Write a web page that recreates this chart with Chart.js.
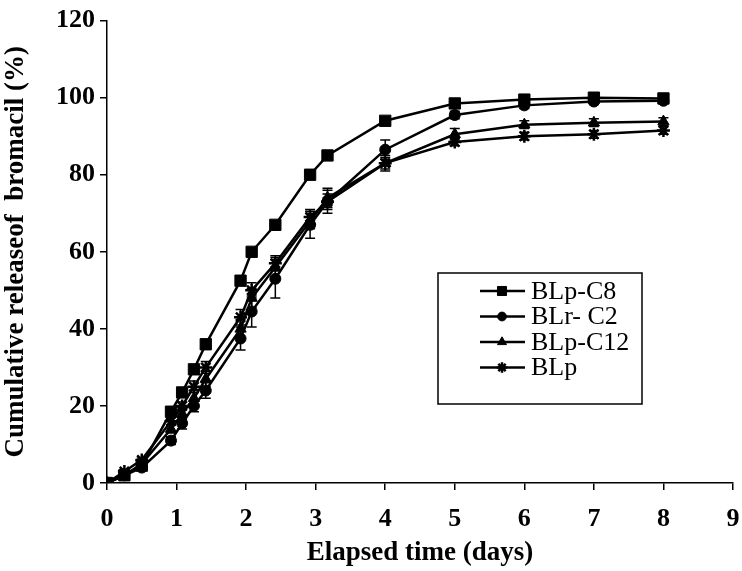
<!DOCTYPE html>
<html>
<head>
<meta charset="utf-8">
<script src="https://cdn.jsdelivr.net/npm/chart.js@4"></script>
<style>
  body { margin: 0; background: #fff; }
  #wrap { width: 742px; height: 571px; }
</style>
</head>
<body>
<div id="wrap"><canvas id="myChart" width="742" height="571"></canvas></div>
<script>
// sampling times (days)
const days = [0, 0.25, 0.5, 0.92, 1.08, 1.25, 1.42, 1.92, 2.08, 2.42, 2.92, 3.17, 4, 5, 6, 7, 8];

const blpC8 = [0, 2, 4.5, 18.5, 23.5, 29.5, 36, 52.5, 60, 67, 80, 85, 94, 98.5, 99.5, 100, 99.8];
const blrC2 = [0, 2, 4, 11, 15.5, 20, 24, 37.5, 44.5, 53, 67, 73, 86.5, 95.5, 98, 99, 99.2];
const blpC12 = [0, 2, 5, 14, 18, 22, 27, 40, 48, 56, 68, 74, 83, 90.5, 93, 93.5, 93.8];
const blp = [0, 3, 6, 16, 20, 25, 30, 43, 50, 57, 69, 73, 83, 88.5, 90, 90.5, 91.5];

// error bars (+/-)
const errC8 = [0, 0, 0, 0.5, 0.5, 0.5, 0.5, 0.8, 0.8, 0.8, 0.8, 0.8, 0.8, 0.8, 0.5, 0.5, 0.5];
const errC2 = [0, 0.5, 0.5, 1, 1.5, 1.5, 2, 3, 4, 5, 3.5, 3, 2.5, 1, 0.8, 0.8, 0.8];
const errC12 = [0, 0.5, 0.5, 1, 1.5, 2, 2, 2.5, 2.5, 2.5, 2, 2.5, 2, 1.5, 1, 1, 1];
const errBlp = [0, 0.5, 0.5, 1, 1, 1.5, 1.5, 2, 2, 2, 2, 2, 1.5, 1, 1, 1, 1];

const xTicks = [0, 1, 2, 3, 4, 5, 6, 7, 8, 9];
const yTicks = [0, 20, 40, 60, 80, 100, 120];

function toPoints(vals) {
  return vals.map((v, i) => ({ x: days[i], y: v }));
}

function makeSet(label, vals, errs, style, radius) {
  return {
    label: label,
    data: toPoints(vals),
    errs: errs,
    borderColor: "#000",
    backgroundColor: "#000",
    borderWidth: 2.5,
    pointStyle: style,
    pointRadius: radius,
    pointBorderWidth: style === "star" ? 2.5 : 1,
    tension: 0,
  };
}

const errorBars = {
  id: "errorBars",
  afterDatasetsDraw(chart) {
    const ctx = chart.ctx;
    const xs = chart.scales.x;
    const ys = chart.scales.y;
    ctx.save();
    ctx.strokeStyle = "#000";
    ctx.lineWidth = 1.5;
    chart.data.datasets.forEach((ds) => {
      ds.data.forEach((p, i) => {
        const e = ds.errs[i];
        if (!e) return;
        const px = xs.getPixelForValue(p.x);
        const top = ys.getPixelForValue(p.y + e);
        const bot = ys.getPixelForValue(p.y - e);
        ctx.beginPath();
        ctx.moveTo(px, top);
        ctx.lineTo(px, bot);
        ctx.moveTo(px - 5, top);
        ctx.lineTo(px + 5, top);
        ctx.moveTo(px - 5, bot);
        ctx.lineTo(px + 5, bot);
        ctx.stroke();
      });
    });
    ctx.restore();
  },
};

// legend box drawn inside the plot
const boxLegend = {
  id: "boxLegend",
  afterDraw(chart) {
    const ctx = chart.ctx;
    const left = 438, top = 273, w = 204, h = 131;
    ctx.save();
    ctx.strokeStyle = "#000";
    ctx.lineWidth = 1.5;
    ctx.fillStyle = "#fff";
    ctx.fillRect(left, top, w, h);
    ctx.strokeRect(left, top, w, h);
    ctx.font = "26px 'Liberation Serif', 'Times New Roman', serif";
    ctx.textBaseline = "middle";
    chart.data.datasets.forEach((ds, i) => {
      const y = top + 18 + i * 25.5;
      ctx.strokeStyle = "#000";
      ctx.fillStyle = "#000";
      ctx.lineWidth = 2.5;
      ctx.beginPath();
      ctx.moveTo(480, y);
      ctx.lineTo(525, y);
      ctx.stroke();
      ctx.lineWidth = ds.pointBorderWidth;
      Chart.helpers.drawPoint(ctx, {
        pointStyle: ds.pointStyle,
        radius: ds.pointRadius * 0.8,
        borderWidth: ds.pointBorderWidth,
        rotation: 0,
      }, 502, y);
      ctx.fillText(ds.label, 531, y + 1);
    });
    ctx.restore();
  },
};

const serifBold = { family: "'Liberation Serif', 'Times New Roman', serif", weight: "bold" };

new Chart(document.getElementById("myChart"), {
  type: "line",
  data: {
    datasets: [
      makeSet("BLp-C8", blpC8, errC8, "rect", 8),
      makeSet("BLr- C2", blrC2, errC2, "circle", 5.5),
      makeSet("BLp-C12", blpC12, errC12, "triangle", 6.5),
      makeSet("BLp", blp, errBlp, "star", 6.5),
    ],
  },
  options: {
    responsive: false,
    animation: false,
    layout: { padding: { left: 0, right: 3, top: 20, bottom: 0 } },
    plugins: {
      legend: { display: false },
      tooltip: { enabled: false },
    },
    scales: {
      x: {
        type: "linear",
        min: 0,
        max: 9,
        afterBuildTicks: (s) => { s.ticks = xTicks.map((v) => ({ value: v })); },
        afterFit: (s) => { s.height = 88; s.paddingRight = 0; s.paddingLeft = 0; },
        border: { color: "#000", width: 1.5 },
        grid: { drawOnChartArea: false, color: "#000", tickLength: 7, lineWidth: 1.5 },
        ticks: { color: "#000", padding: 14, font: { ...serifBold, size: 26 } },
        title: {
          display: true,
          text: "Elapsed time (days)",
          color: "#000",
          padding: { top: 0, bottom: 2 },
          font: { ...serifBold, size: 27 },
        },
      },
      y: {
        min: 0,
        max: 120,
        afterBuildTicks: (s) => { s.ticks = yTicks.map((v) => ({ value: v })); },
        afterFit: (s) => { s.width = 107; },
        border: { color: "#000", width: 1.5 },
        grid: { drawOnChartArea: false, color: "#000", tickLength: 7, lineWidth: 1.5 },
        ticks: { color: "#000", padding: 5, font: { ...serifBold, size: 26 } },
        title: {
          display: true,
          text: "Cumulative releaseof  bromacil (%)",
          color: "#000",
          padding: { top: 0, bottom: 4 },
          font: { ...serifBold, size: 27 },
        },
      },
    },
  },
  plugins: [errorBars, boxLegend],
});
</script>
</body>
</html>
